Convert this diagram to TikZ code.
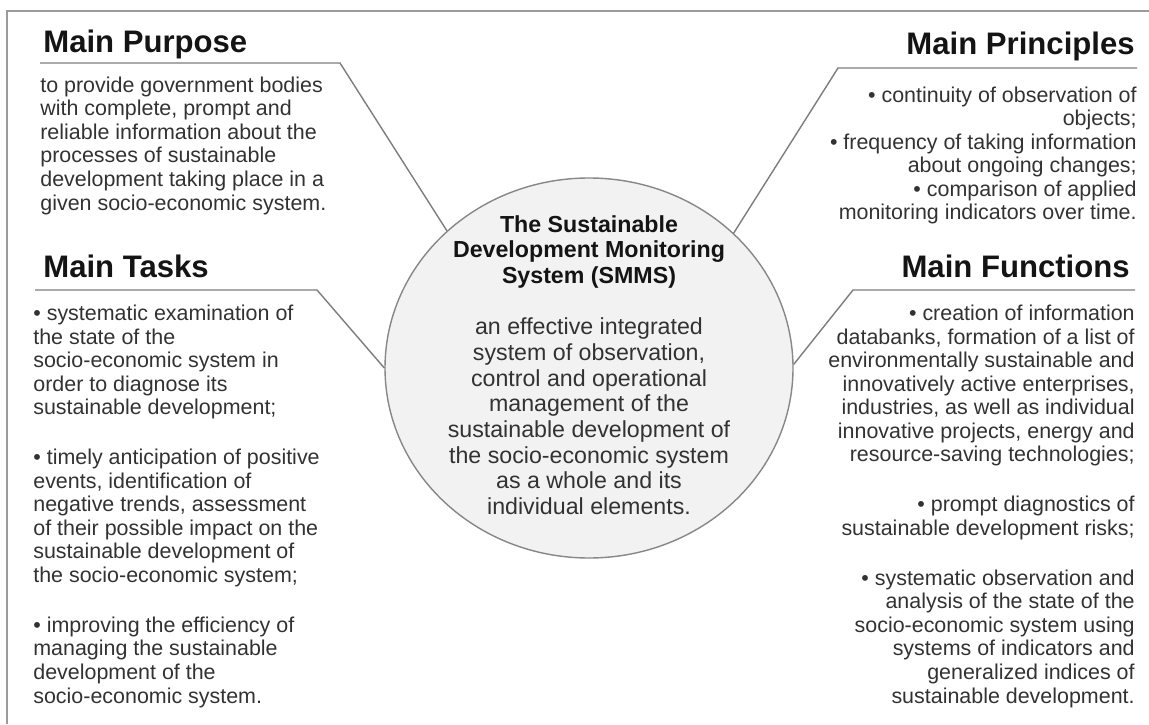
\documentclass[tikz,border=0pt]{standalone}
\usepackage{fontspec}
\setmainfont{Liberation Sans}
\usepackage{tikz}
\usetikzlibrary{shapes, positioning}
\definecolor{framegray}{RGB}{155, 155, 155}
\definecolor{linkgray} {RGB}{125, 125, 125}
\definecolor{ringgray} {RGB}{135, 135, 135}
\definecolor{ringfill} {RGB}{242, 242, 242}
\definecolor{headtext} {RGB}{20,  20,  20}
\definecolor{bodytext} {RGB}{50,  50,  50}

\begin{document}
\begin{tikzpicture}[
    heading/.style={font=\fontsize{17.7}{20}\selectfont\bfseries, color=headtext, inner sep=0pt},
    body/.style={font=\fontsize{12.2}{13.4}\selectfont, color=bodytext, inner sep=0pt},
    ringtext/.style={font=\fontsize{13.2}{14.6}\selectfont, color=bodytext, inner sep=0pt, align=center},
    link/.style={line width=0.8pt, color=linkgray}
  ]
  \useasboundingbox (0,0) rectangle (22.98,14.48);

  % Outer frame (only top and left edges show)
  \draw[line width=1.2pt, framegray] (0.14,0) -- (0.14,14.26) -- (22.98,14.26);

  % Central ellipse (SMMS); text blocks sit on their last baseline
  \node[ellipse, draw=ringgray, line width=0.8pt, fill=ringfill,
        minimum width=8.16cm, minimum height=7.6cm] (smms) at (11.78,7.12) {};
  \node[ringtext, anchor=base] (smmstext) at (11.78,4.19)
    {\textbf{\color{headtext}The Sustainable}\\
     \textbf{\color{headtext}Development Monitoring}\\
     \textbf{\color{headtext}System (SMMS)}\\[14.6pt]
     an effective integrated\\
     system of observation,\\
     control and operational\\
     management of the\\
     sustainable development of\\
     the socio-economic system\\
     as a whole and its\\
     individual elements.};

  % Headings
  \node[heading, anchor=base west] (purposehead)   at (0.86,13.42) {Main Purpose};
  \node[heading, anchor=base east] (principlehead) at (22.70,13.38) {Main Principles};
  \node[heading, anchor=base west] (taskhead)      at (0.86,8.94)  {Main Tasks};
  \node[heading, anchor=base east] (functionhead)  at (22.60,8.94)  {Main Functions};

  % Underlines bending towards the ellipse
  \coordinate (purposeend)    at (0.80,13.22);
  \coordinate (purposebend)   at (6.80,13.22);
  \coordinate (principleend)  at (22.74,13.12);
  \coordinate (principlebend) at (16.76,13.12);
  \coordinate (taskend)       at (0.70,8.68);
  \coordinate (taskbend)      at (6.34,8.68);
  \coordinate (functionend)   at (22.70,8.68);
  \coordinate (functionbend)  at (17.06,8.68);

  \draw[link] (purposeend) -- (purposebend) -- (smms.136.6);
  \draw[link] (principleend) -- (principlebend) -- (smms.43.4);
  \draw[link] (taskend) -- (taskbend) -- (smms.180);
  \draw[link] (functionend) -- (functionbend) -- (smms.1);

  % Main Purpose text
  \node[body, anchor=base west, align=left] (purposetext) at (0.80,10.28)
    {to provide government bodies\\
     with complete, prompt and\\
     reliable information about the\\
     processes of sustainable\\
     development taking place in a\\
     given socio-economic system.};

  % Main Principles text
  \node[body, anchor=base east, align=right] (principletext) at (22.74,10.08)
    {\textbullet\ continuity of observation of\\
     objects;\\
     \textbullet\ frequency of taking information\\
     about ongoing changes;\\
     \textbullet\ comparison of applied\\
     monitoring indicators over time.};

  % Main Tasks text
  \node[body, anchor=base west, align=left] (tasktext) at (0.66,0.42)
    {\textbullet\ systematic examination of\\
     the state of the\\
     socio-economic system in\\
     order to diagnose its\\
     sustainable development;\\[15pt]
     \textbullet\ timely anticipation of positive\\
     events, identification of\\
     negative trends, assessment\\
     of their possible impact on the\\
     sustainable development of\\
     the socio-economic system;\\[15pt]
     \textbullet\ improving the efficiency of\\
     managing the sustainable\\
     development of the\\
     socio-economic system.};

  % Main Functions text
  \node[body, anchor=base east, align=right] (functiontext) at (22.70,0.42)
    {\textbullet\ creation of information\\
     databanks, formation of a list of\\
     environmentally sustainable and\\
     innovatively active enterprises,\\
     industries, as well as individual\\
     innovative projects, energy and\\
     resource-saving technologies;\\[15pt]
     \textbullet\ prompt diagnostics of\\
     sustainable development risks;\\[15pt]
     \textbullet\ systematic observation and\\
     analysis of the state of the\\
     socio-economic system using\\
     systems of indicators and\\
     generalized indices of\\
     sustainable development.};
\end{tikzpicture}
\end{document}
